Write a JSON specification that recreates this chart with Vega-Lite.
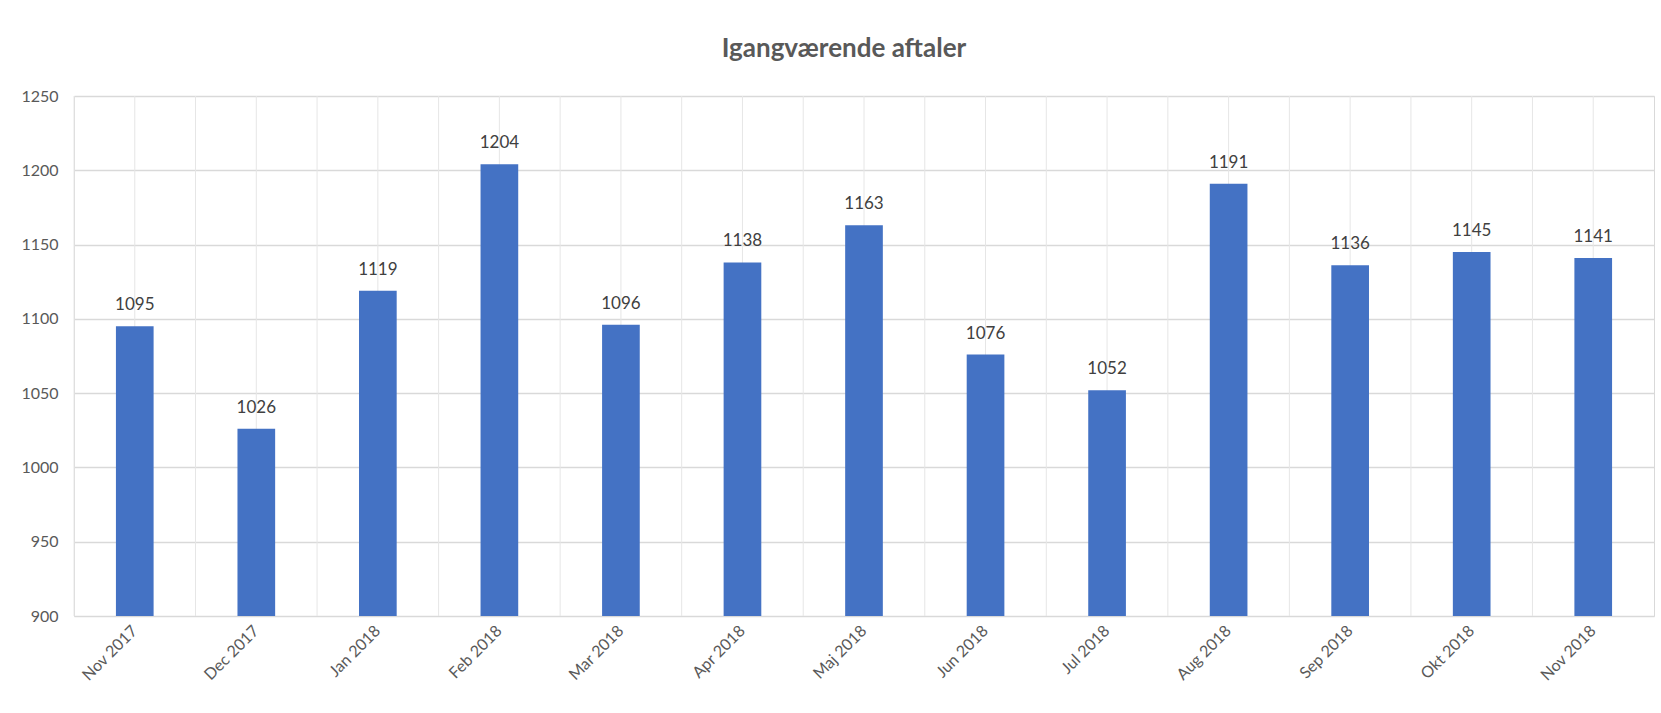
{
  "$schema": "https://vega.github.io/schema/vega-lite/v6.json",
  "autosize": "none",
  "width": 1580,
  "height": 520,
  "padding": {"left": 74, "top": 96, "right": 7, "bottom": 97},
  "background": "white",
  "title": {"text": "Igangværende aftaler", "font": "Lato", "fontSize": 26, "fontWeight": "bold", "color": "#595959", "anchor": "middle", "offset": 26, "dx": -20},
  "config": {"view": {"stroke": "#d9d9d9"}, "font": "Lato"},
  "data": {"values": [
    {"month": "Nov 2017", "value": 1095},
    {"month": "Dec 2017", "value": 1026},
    {"month": "Jan 2018", "value": 1119},
    {"month": "Feb 2018", "value": 1204},
    {"month": "Mar 2018", "value": 1096},
    {"month": "Apr 2018", "value": 1138},
    {"month": "Maj 2018", "value": 1163},
    {"month": "Jun 2018", "value": 1076},
    {"month": "Jul 2018", "value": 1052},
    {"month": "Aug 2018", "value": 1191},
    {"month": "Sep 2018", "value": 1136},
    {"month": "Okt 2018", "value": 1145},
    {"month": "Nov 2018", "value": 1141}
  ]},
  "encoding": {
    "x": {"field": "month", "type": "nominal", "sort": null,
      "scale": {"paddingInner": 0, "paddingOuter": 0},
      "axis": {"title": null, "labelAngle": -45, "labelAlign": "right", "labelBaseline": "middle", "labelFont": "Lato", "labelFontSize": 16, "labelColor": "#595959", "ticks": false, "domain": false, "labelPadding": 12, "grid": false}}
  },
  "layer": [
    {"mark": {"type": "rule", "color": "#e6e6e6", "strokeWidth": 1},
     "encoding": {"x": {"field": "month", "type": "nominal", "sort": null, "bandPosition": 0}}},
    {"mark": {"type": "rule", "color": "#e6e6e6", "strokeWidth": 1},
     "encoding": {"x": {"field": "month", "type": "nominal", "sort": null, "bandPosition": 0.5}}},
    {"mark": {"type": "bar", "color": "#4472C4", "width": {"band": 0.31}},
     "encoding": {
       "y": {"field": "value", "type": "quantitative",
         "scale": {"domain": [900, 1250], "zero": false, "nice": false},
         "axis": {"title": null, "values": [900, 950, 1000, 1050, 1100, 1150, 1200, 1250], "format": "d", "labelFont": "Lato", "labelFontSize": 16, "labelColor": "#595959", "ticks": false, "domain": false, "labelPadding": 16, "gridColor": "#d9d9d9", "gridWidth": 1.5}},
       "y2": {"datum": 900}
     }},
    {"mark": {"type": "text", "dy": -12, "font": "Lato", "fontSize": 17, "color": "#404040", "baseline": "bottom"},
     "encoding": {
       "y": {"field": "value", "type": "quantitative"},
       "text": {"field": "value", "type": "quantitative", "format": "d"}
     }}
  ]
}
